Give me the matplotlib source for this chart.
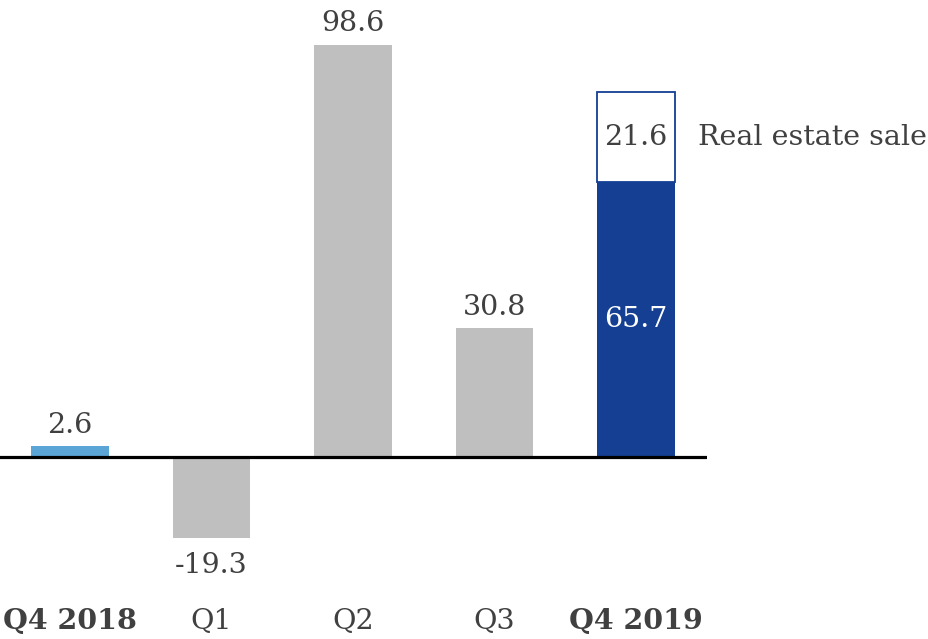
import matplotlib.pyplot as plt

categories = ["Q4 2018", "Q1", "Q2", "Q3", "Q4 2019"]
values = [2.6, -19.3, 98.6, 30.8, 65.7]
real_estate = 21.6
bold_labels = ["Q4 2018", "Q4 2019"]

bar_colors = ["#5BA5D6", "#BFBFBF", "#BFBFBF", "#BFBFBF", "#143F93"]
text_color = "#404040"

plt.rcParams["font.family"] = ["DejaVu Serif"]

fig = plt.figure(figsize=(9.29, 6.39), dpi=100)
ax = fig.add_axes([0, 0, 707 / 929, 1])
ax.set_xlim(-0.4947, 4.502)
ax.set_ylim(-43.5, 109.3)
ax.axis("off")

x = range(len(categories))
w = 0.55
ax.bar(x, values, width=w, color=bar_colors, zorder=2)

# real estate sale stacked on top of the last quarter
ax.bar(4, real_estate, bottom=values[4], width=w, color="white",
       edgecolor="#143F93", linewidth=1.3, zorder=2)

ax.axhline(0, color="black", linewidth=2.3, zorder=3)

fs = 20.5
for i, v in enumerate(values):
    if i == 4:
        ax.text(i, v / 2, f"{v:.1f}", ha="center", va="center",
                fontsize=fs, color="white")
    elif v >= 0:
        ax.text(i, v + 1.8, f"{v:.1f}", ha="center", va="bottom",
                fontsize=fs, color=text_color)
    else:
        ax.text(i, v - 3.3, f"{v:.1f}", ha="center", va="top",
                fontsize=fs, color=text_color)

ax.text(4, values[4] + real_estate / 2, f"{real_estate:.1f}", ha="center",
        va="center", fontsize=fs, color=text_color)
ax.text(4.44, values[4] + real_estate / 2, "Real estate sale", ha="left",
        va="center", fontsize=fs, color=text_color, clip_on=False)

for i, c in enumerate(categories):
    ax.text(i, -39.3, c, ha="center", va="center", fontsize=fs,
            color=text_color,
            fontweight="bold" if c in bold_labels else "normal")

fig.savefig("out.png", dpi=100)
